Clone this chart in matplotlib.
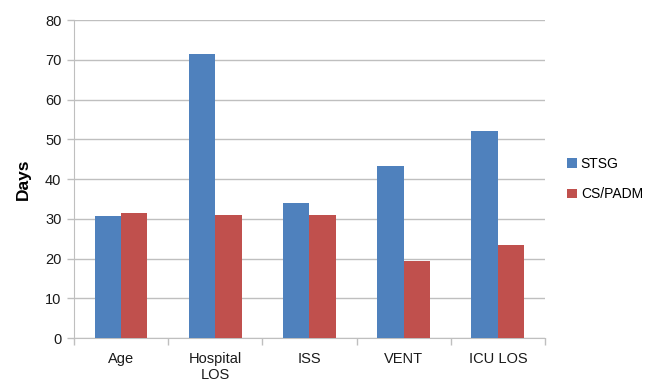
import numpy as np
import matplotlib
matplotlib.use('Agg')
import matplotlib.pyplot as plt

plt.rcParams['font.family'] = ['Liberation Sans', 'DejaVu Sans']

categories = ['Age', 'Hospital\nLOS', 'ISS', 'VENT', 'ICU LOS']
stsg       = [30.6, 71.5, 33.9, 43.4, 52.0]
cs_padm    = [31.4, 31.0, 31.0, 19.5, 23.5]

blue = '#4F81BD'
red  = '#C0504D'
grid = '#BFBFBF'


def plot_days():
  fig = plt.figure(figsize=(6.48, 3.86), dpi=100)
  ax = fig.add_axes([0.114, 0.124, 0.727, 0.824])
  x = np.arange(len(categories))
  w = 0.28
  ax.bar(x - w/2, stsg, w, color=blue, label='STSG', zorder=3)
  ax.bar(x + w/2, cs_padm, w, color=red, label='CS/PADM', zorder=3)

  ax.set_ylim(0, 80)
  ax.set_yticks(range(0, 81, 10))
  ax.set_xlim(-0.5, len(categories) - 0.5)
  ax.set_xticks(x)
  ax.set_xticklabels(categories, fontsize=10.5, color='#1a1a1a', linespacing=1.15)
  ax.set_xticks(np.arange(-0.5, len(categories)), minor=True)
  ax.tick_params(axis='x', which='major', length=0, pad=10)
  ax.tick_params(axis='x', which='minor', length=5, color=grid, width=1)
  ax.tick_params(axis='y', length=5, color=grid, width=1, labelsize=10.5,
                 labelcolor='#1a1a1a', pad=4)
  ax.yaxis.grid(True, color=grid, linewidth=1, zorder=0)
  for s in ['top', 'right']:
    ax.spines[s].set_visible(False)
  for s in ['left', 'bottom']:
    ax.spines[s].set_color(grid)
  ax.set_ylabel('Days', fontsize=12.5, fontweight='bold', labelpad=10)

  ax.legend(loc='center left', bbox_to_anchor=(1.02, 0.5), frameon=False,
            fontsize=10, handlelength=0.7, handleheight=0.7,
            handletextpad=0.3, labelspacing=1.2)
  fig.savefig('out.png', dpi=100)


if __name__ == '__main__':
  plot_days()
